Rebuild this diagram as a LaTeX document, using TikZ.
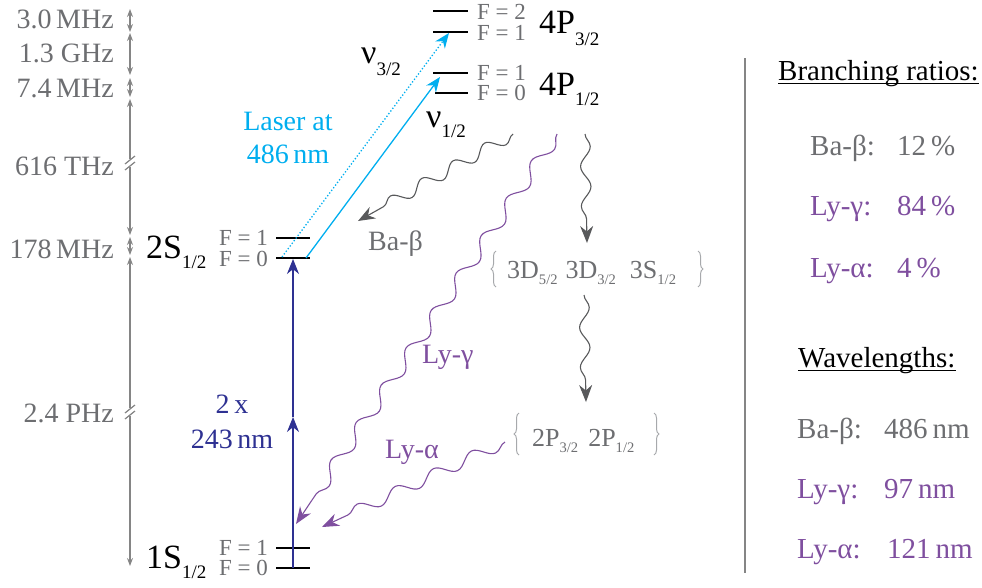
\documentclass[tikz,border=0pt]{standalone}
\usepackage{fontspec}
\setmainfont{Liberation Serif}
\usepackage{graphicx}
\usetikzlibrary{arrows.meta,decorations.pathmorphing,decorations.pathreplacing}
\definecolor{txtgray}{HTML}{6D6E71}
\definecolor{axgray}{HTML}{858585}
\definecolor{wavegray}{HTML}{58595B}
\definecolor{lypurple}{HTML}{7F4F9F}
\definecolor{navyb}{HTML}{2E3192}
\definecolor{laser}{HTML}{00AEEF}
\definecolor{bracegray}{HTML}{A7A9AC}
\newcommand{\lsub}[2]{\raisebox{-#1}{\scalebox{0.56}{#2}}}
\begin{document}
\begin{tikzpicture}[x=1pt,y=-1pt,
  level/.style={line width=2.3pt,black},
  flab/.style={font=\fontsize{23}{23}\selectfont,text=txtgray,inner sep=0},
  state/.style={font=\fontsize{34}{34}\selectfont,inner sep=0,anchor=base west},
  axlab/.style={font=\fontsize{28}{28}\selectfont,text=txtgray,inner sep=0,anchor=base east},
  axarrow/.style={axgray,line width=1.2pt,{Stealth[length=8pt,width=6pt]}-{Stealth[length=8pt,width=6pt]}},
  txt/.style={font=\fontsize{28}{28}\selectfont,inner sep=0},
  rtxt/.style={font=\fontsize{29}{29}\selectfont,inner sep=0,anchor=base west},
  brtxt/.style={font=\fontsize{26}{26}\selectfont,text=txtgray,inner sep=0},
  wave/.style 2 args={decorate,decoration={snake,amplitude=#2,segment length=#1,post length=14pt},line width=1.1pt},
  wtip/.style={-{Stealth[length=17pt,width=13pt]}},
  ltip/.style={-{Stealth[length=15pt,width=12pt]}},
  brc/.style={bracegray,line width=1pt,decorate,decoration={brace,amplitude=5pt}}
]
\useasboundingbox (0,0) rectangle (982,587);

% ---------- energy levels ----------
\coordinate (p32a) at (433,11);  \coordinate (p32b) at (468,11);
\coordinate (p31a) at (433,32);  \coordinate (p31b) at (468,32);
\coordinate (p11a) at (433,73);  \coordinate (p11b) at (468,73);
\coordinate (p10a) at (435,93);  \coordinate (p10b) at (468,93);
\coordinate (s21a) at (276,238); \coordinate (s21b) at (310,238);
\coordinate (s20a) at (276,258); \coordinate (s20b) at (310,258);
\coordinate (s11a) at (276,548); \coordinate (s11b) at (310,548);
\coordinate (s10a) at (276,568); \coordinate (s10b) at (310,568);
\foreach \l in {p32,p31,p11,p10,s21,s20,s11,s10}{\draw[level] (\l a) -- (\l b);}

% F labels
\node[flab,anchor=base west] (f32) at (477,19) {F = 2};
\node[flab,anchor=base west] (f31) at (477,40) {F = 1};
\node[flab,anchor=base west] (f11) at (477,80) {F = 1};
\node[flab,anchor=base west] (f10) at (477,100) {F = 0};
\node[flab,anchor=base east] (f21) at (268,245) {F = 1};
\node[flab,anchor=base east] (f20) at (268,266) {F = 0};
\node[flab,anchor=base east] (f1s1) at (268,555) {F = 1};
\node[flab,anchor=base east] (f1s0) at (268,575) {F = 0};

% state labels
\node[state] (st4p3) at (539,33) {4P\lsub{12pt}{3/2}};
\node[state] (st4p1) at (539,95) {4P\lsub{10pt}{1/2}};
\node[state] (st2s) at (146,258) {2S\lsub{10pt}{1/2}};
\node[state] (st1s) at (146,568) {1S\lsub{10pt}{1/2}};

% ---------- frequency axis ----------
\coordinate (a1) at (130,9);
\coordinate (a2) at (130,32);
\coordinate (a2b) at (130,33);
\coordinate (a3) at (130,75);
\coordinate (a3b) at (130,78);
\coordinate (a4) at (130,97);
\coordinate (a4b) at (130,99);
\coordinate (a5) at (130,235);
\coordinate (a5b) at (130,237);
\coordinate (a6) at (130,255);
\coordinate (a6b) at (130,257);
\coordinate (a7) at (130,566);
\draw[axarrow] (a1) -- (a2);
\draw[axarrow] (a2b) -- (a3);
\draw[axarrow] (a3b) -- (a4);
\draw[axarrow] (a4b) -- (a5);
\draw[axarrow] (a5b) -- (a6);
\draw[axarrow] (a6b) -- (a7);
\foreach \yb in {163,412}{
  \fill[white] (126,\yb-4) rectangle (134,\yb+4);
  \draw[axgray,line width=1.2pt] (125,\yb+1) -- (135,\yb-7);
  \draw[axgray,line width=1.2pt] (125,\yb+7) -- (135,\yb-1);
}
\node[axlab] (l1) at (114,28) {3.0\,MHz};
\node[axlab] (l2) at (114,62) {1.3 GHz};
\node[axlab] (l3) at (114,97) {7.4\,MHz};
\node[axlab] (l4) at (114,175) {616 THz};
\node[axlab] (l5) at (114,258) {178\,MHz};
\node[axlab] (l6) at (114,422) {2.4 PHz};

% ---------- excitation ----------
\coordinate (tp0) at (293,568);
\coordinate (tpm) at (293,417);
\coordinate (tp1) at (293,259);
\draw[navyb,line width=1.1pt,-{Stealth[length=15pt,width=12pt]}] (tp0) -- (tpm);
\draw[navyb,line width=1.1pt,-{Stealth[length=15pt,width=12pt]}] (tpm) -- (tp1);
\node[txt,text=navyb,anchor=base] (tw1) at (232,413) {2\,x};
\node[txt,text=navyb,anchor=base] (tw2) at (232,448) {243\,nm};

\coordinate (c1s) at (306,258); \coordinate (c1e) at (440,77);
\coordinate (c3s) at (282,257); \coordinate (c3e) at (449,33);
\draw[laser,line width=1.3pt,ltip] (c1s) -- (c1e);
\draw[laser,line width=1.3pt,dotted,ltip] (c3s) -- (c3e);
\node[txt,text=laser,anchor=base] (la1) at (288,130) {Laser at};
\node[txt,text=laser,anchor=base] (la2) at (288,163) {486\,nm};
\node[state] (nu3) at (361,63) {ν\lsub{12pt}{3/2}};
\node[state] (nu1) at (426,127) {ν\lsub{10pt}{1/2}};

% ---------- decays ----------
\coordinate (bbS) at (513,134); \coordinate (bbE) at (358,221);
\coordinate (lgS) at (557,134); \coordinate (lgE) at (296,524);
\coordinate (g1S) at (585,134); \coordinate (g1E) at (587,243);
\coordinate (g2S) at (584,295); \coordinate (g2E) at (586,402);
\coordinate (laS) at (505,442); \coordinate (laE) at (322,527);
\draw[wave={36pt}{6pt},wavegray,wtip] (bbS) -- (bbE);
\draw[wave={45pt}{6.5pt},lypurple,wtip] (lgS) -- (lgE);
\draw[wave={40pt}{5pt},wavegray,wtip] (g1S) -- (g1E);
\draw[wave={40pt}{5pt},wavegray,wtip] (g2S) -- (g2E);
\draw[wave={42pt}{6pt},lypurple,wtip] (laS) -- (laE);
\node[txt,text=txtgray,anchor=base west] (bb) at (368,250) {Ba-β};
\node[txt,text=lypurple,anchor=base west] (lg) at (422,363) {Ly-γ};
\node[txt,text=lypurple,anchor=base west] (la) at (385,458) {Ly-α};

% braces
\draw[brc] (496,287) -- (496,251);
\draw[brc] (698,251) -- (698,287);
\node[brtxt,anchor=base west] (g3) at (507,278) {3D\lsub{6pt}{5/2}\hspace{8pt}3D\lsub{6pt}{3/2}\hspace{14pt}3S\lsub{6pt}{1/2}};
\draw[brc] (519,455) -- (519,413);
\draw[brc] (654,413) -- (654,455);
\node[brtxt,anchor=base west] (g2) at (532,446) {2P\lsub{6pt}{3/2}\hspace{10pt}2P\lsub{6pt}{1/2}};

% ---------- right panel ----------
\coordinate (vt) at (745,58); \coordinate (vb) at (745,573);
\draw[axgray,line width=1.5pt] (vt) -- (vb);
\node[rtxt] (brh) at (778,80) {Branching ratios:};
\draw[line width=1pt] ([yshift=-3pt]brh.base west) -- ([yshift=-3pt]brh.base east);
\node[rtxt,text=txtgray] (r1a) at (810,155) {Ba-β:};
\node[rtxt,text=txtgray] (r1b) at (897,155) {12\,\%};
\node[rtxt,text=lypurple] (r2a) at (810,215) {Ly-γ:};
\node[rtxt,text=lypurple] (r2b) at (897,215) {84\,\%};
\node[rtxt,text=lypurple] (r3a) at (810,277) {Ly-α:};
\node[rtxt,text=lypurple] (r3b) at (897,277) {4\,\%};
\node[rtxt] (wlh) at (798,367) {Wavelengths:};
\draw[line width=1pt] ([yshift=-3pt]wlh.base west) -- ([yshift=-3pt]wlh.base east);
\node[rtxt,text=txtgray] (w1a) at (797,438) {Ba-β:};
\node[rtxt,text=txtgray] (w1b) at (884,438) {486\,nm};
\node[rtxt,text=lypurple] (w2a) at (797,498) {Ly-γ:};
\node[rtxt,text=lypurple] (w2b) at (884,498) {97\,nm};
\node[rtxt,text=lypurple] (w3a) at (797,558) {Ly-α:};
\node[rtxt,text=lypurple] (w3b) at (887,558) {121\,nm};
\end{tikzpicture}
\end{document}
